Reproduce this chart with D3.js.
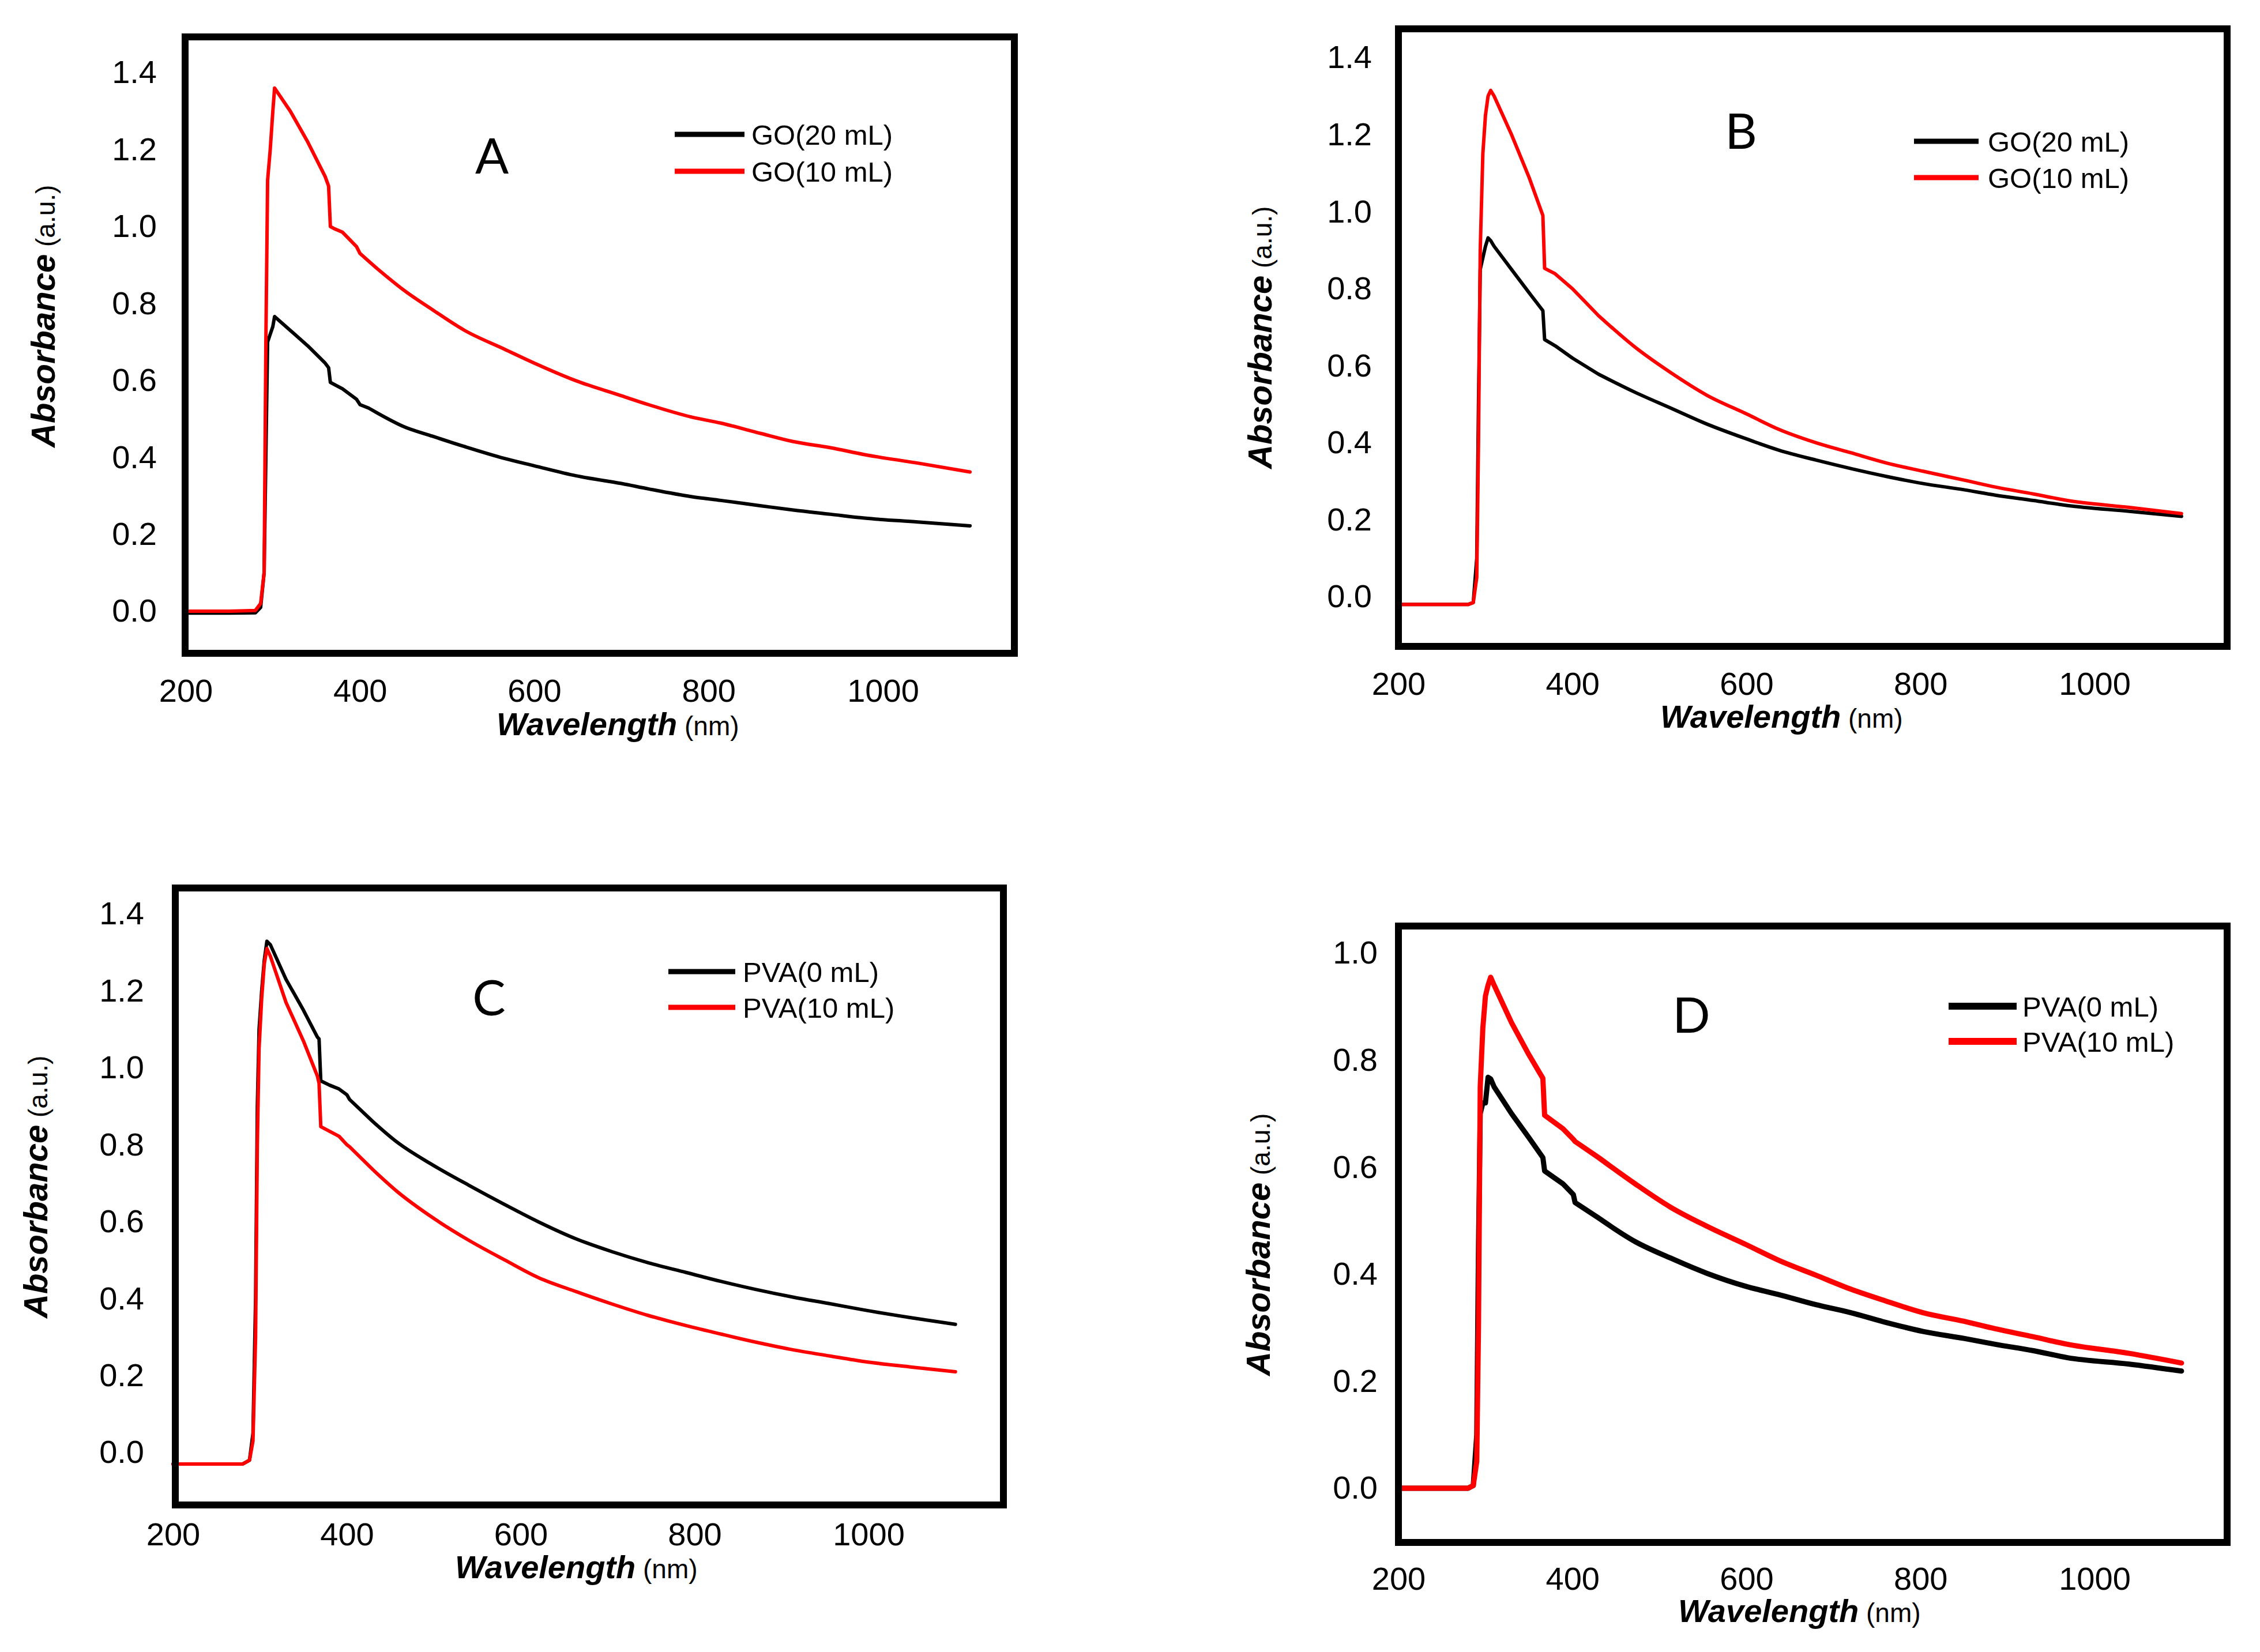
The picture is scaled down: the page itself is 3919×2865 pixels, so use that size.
<!DOCTYPE html>
<html>
<head>
<meta charset="utf-8">
<script src="https://cdn.jsdelivr.net/npm/d3@7"></script>
<style>
  html, body { margin: 0; padding: 0; background: #fff; }
  svg { display: block; }
</style>
</head>
<body>
<script>
// ---------------- DATA ----------------
const xTicks = [200, 400, 600, 800, 1000];
const yTicksABC = [0, 0.2, 0.4, 0.6, 0.8, 1.0, 1.2, 1.4];
const yTicksD = [0, 0.2, 0.4, 0.6, 0.8, 1.0];

// Panel A
const wlA = [200, 250, 280, 286, 290, 292, 294, 297, 300, 302, 305, 320, 340, 360, 364, 366, 370, 380, 396, 400, 410, 420, 450, 483, 520, 566, 600, 648, 700, 731, 780, 814, 860, 897, 940, 979, 1040, 1100];
const goA20 = [-0.005, -0.005, -0.004, 0.01, 0.1, 0.4, 0.70, 0.72, 0.74, 0.766, 0.76, 0.73, 0.69, 0.645, 0.633, 0.595, 0.59, 0.578, 0.551, 0.537, 0.528, 0.515, 0.480, 0.455, 0.428, 0.397, 0.378, 0.352, 0.332, 0.318, 0.298, 0.288, 0.274, 0.263, 0.252, 0.242, 0.232, 0.222];
const goA10 = [0, 0, 0.002, 0.02, 0.1, 0.7, 1.12, 1.2, 1.3, 1.36, 1.35, 1.30, 1.22, 1.13, 1.105, 1.0, 0.995, 0.985, 0.948, 0.93, 0.91, 0.89, 0.835, 0.784, 0.73, 0.681, 0.645, 0.599, 0.56, 0.537, 0.505, 0.489, 0.462, 0.441, 0.425, 0.407, 0.385, 0.362];

// Panel B
const wlB = [200, 250, 280, 286, 290, 292, 294, 297, 300, 303, 306, 310, 330, 350, 366, 368, 380, 400, 430, 472, 513, 554, 600, 637, 680, 720, 760, 803, 850, 886, 930, 969, 1040, 1100];
const goB20 = [-0.02, -0.02, -0.02, -0.015, 0.1, 0.5, 0.85, 0.88, 0.91, 0.932, 0.925, 0.91, 0.85, 0.79, 0.743, 0.668, 0.652, 0.62, 0.578, 0.531, 0.49, 0.449, 0.41, 0.381, 0.355, 0.333, 0.313, 0.294, 0.278, 0.264, 0.25, 0.237, 0.222, 0.209];
const goB10 = [-0.02, -0.02, -0.02, -0.015, 0.05, 0.4, 0.9, 1.15, 1.25, 1.3, 1.315, 1.3, 1.2, 1.09, 0.99, 0.853, 0.839, 0.80, 0.73, 0.648, 0.582, 0.524, 0.475, 0.435, 0.40, 0.374, 0.348, 0.326, 0.303, 0.285, 0.267, 0.25, 0.232, 0.216];

// Panel C
const wlC = [200, 250, 280, 288, 292, 295, 297, 299, 302, 305, 308, 312, 330, 350, 366, 368, 370, 380, 391, 400, 403, 430, 457, 499, 540, 582, 620, 664, 705, 747, 790, 830, 870, 913, 955, 996, 1050, 1100];
const pvaC0 = [-0.03, -0.03, -0.03, -0.02, 0.05, 0.4, 0.9, 1.1, 1.2, 1.28, 1.329, 1.32, 1.23, 1.15, 1.08, 1.075, 0.966, 0.955, 0.945, 0.93, 0.918, 0.86, 0.808, 0.747, 0.695, 0.644, 0.60, 0.555, 0.522, 0.493, 0.468, 0.445, 0.424, 0.404, 0.387, 0.37, 0.35, 0.333];
const pvaC10 = [-0.03, -0.03, -0.03, -0.02, 0.03, 0.3, 0.8, 1.05, 1.18, 1.27, 1.31, 1.29, 1.17, 1.07, 0.979, 0.96, 0.847, 0.835, 0.822, 0.80, 0.795, 0.735, 0.68, 0.61, 0.552, 0.5, 0.455, 0.418, 0.386, 0.356, 0.33, 0.308, 0.287, 0.267, 0.251, 0.236, 0.222, 0.21];

// Panel D
const wlD = [200, 250, 280, 286, 290, 292, 294, 297, 300, 303, 306, 310, 330, 350, 366, 368, 389, 401, 403, 430, 472, 513, 554, 600, 637, 680, 720, 760, 803, 850, 886, 930, 969, 1040, 1100];
const pvaD0 = [0, 0, 0, 0.005, 0.1, 0.45, 0.7, 0.72, 0.72, 0.768, 0.765, 0.75, 0.70, 0.655, 0.618, 0.593, 0.569, 0.549, 0.534, 0.505, 0.461, 0.43, 0.402, 0.377, 0.362, 0.343, 0.328, 0.31, 0.293, 0.28, 0.269, 0.257, 0.244, 0.232, 0.219];
const pvaD10 = [0, 0, 0, 0.005, 0.05, 0.3, 0.75, 0.86, 0.92, 0.94, 0.955, 0.94, 0.87, 0.81, 0.766, 0.697, 0.672, 0.652, 0.648, 0.618, 0.569, 0.525, 0.49, 0.455, 0.426, 0.398, 0.372, 0.35, 0.328, 0.312, 0.298, 0.283, 0.269, 0.252, 0.234];

const panelLetters = ["A", "B", "C", "D"];
const legendA = ["GO(20 mL)", "GO(10 mL)"];
const legendC = ["PVA(0 mL)", "PVA(10 mL)"];

// ---------------- LAYOUT ----------------
const W = 3919, H = 2865;
const FONT = "'Liberation Sans', Arial, sans-serif";
const SMOOTH_FROM = 420; // decay tail drawn with a monotone curve, sharp features kept linear

const panels = [
  { letter: panelLetters[0], wl: wlA, series: [goA20, goA10], names: legendA, yTicks: yTicksABC, yRef: 1.4,
    x200: 322, x1000: 1531, y0: 1060, yRef_px: 126, box: [321, 64, 1759, 1133],
    yPad: 49, xTickY: 1197, xLab: [861, 1275], yLab: [95, 776], letterPos: [853, 301],
    leg: { x1: 1170, x2: 1291, ys: [233, 297], tx: 1303 }, lw: 6, legLw: 9 },
  { letter: panelLetters[1], wl: wlB, series: [goB20, goB10], names: legendA, yTicks: yTicksABC, yRef: 1.4,
    x200: 2425, x1000: 3632, y0: 1035, yRef_px: 100, box: [2425, 50, 3862, 1121],
    yPad: 46, xTickY: 1185, xLab: [2879, 1262], yLab: [2205, 813], letterPos: [3019, 258],
    leg: { x1: 3319, x2: 3431, ys: [245, 308], tx: 3447 }, lw: 6, legLw: 9 },
  { letter: panelLetters[2], wl: wlC, series: [pvaC0, pvaC10], names: legendC, yTicks: yTicksABC, yRef: 1.4,
    x200: 300, x1000: 1506, y0: 2519, yRef_px: 1585, box: [304, 1540, 1740, 2610],
    yPad: 54, xTickY: 2660, xLab: [789, 2737], yLab: [82, 2286], letterPos: [848, 1761],
    leg: { x1: 1159, x2: 1275, ys: [1685, 1747], tx: 1288 }, lw: 6, legLw: 9 },
  { letter: panelLetters[3], wl: wlD, series: [pvaD0, pvaD10], names: legendC, yTicks: yTicksD, yRef: 1.0,
    x200: 2425, x1000: 3632, y0: 2581, yRef_px: 1653, box: [2425, 1606, 3862, 2675],
    yPad: 36, xTickY: 2737, xLab: [2910, 2813], yLab: [2202, 2386], letterPos: [2933, 1791],
    leg: { x1: 3379, x2: 3497, ys: [1745, 1806], tx: 3507 }, lw: 9, legLw: 12 }
];
const colors = ["#000000", "#ff0000"];

const svg = d3.select("body").append("svg")
  .attr("width", W).attr("height", H).attr("viewBox", `0 0 ${W} ${H}`);
svg.append("rect").attr("width", W).attr("height", H).attr("fill", "#fff");

panels.forEach(p => {
  const g = svg.append("g");
  const x = d3.scaleLinear().domain([200, 1000]).range([p.x200, p.x1000]);
  const y = d3.scaleLinear().domain([0, p.yRef]).range([p.y0, p.yRef_px]);
  const [bx0, by0, bx1, by1] = p.box;

  // y axis labels
  const yAxis = d3.axisLeft(y).tickValues(p.yTicks).tickSize(0).tickPadding(p.yPad)
    .tickFormat(d3.format(".1f"));
  const ya = g.append("g").attr("transform", `translate(${bx0},0)`).call(yAxis);
  ya.select(".domain").remove();
  ya.selectAll("text").attr("font-family", FONT).attr("font-size", 56).attr("fill", "#000");

  // x axis labels
  const xAxis = d3.axisBottom(x).tickValues(xTicks).tickSize(0).tickFormat(d3.format("d"));
  const xa = g.append("g").attr("transform", `translate(0,${p.xTickY})`).call(xAxis);
  xa.select(".domain").remove();
  xa.selectAll("text").attr("y", 0).attr("dy", "0.36em")
    .attr("font-family", FONT).attr("font-size", 56).attr("fill", "#000");

  // curves: sharp part linear, smooth tail monotone, joined in one path
  const lineLin = d3.line().x(d => x(d[0])).y(d => y(d[1]));
  const lineSmooth = d3.line().curve(d3.curveMonotoneX).x(d => x(d[0])).y(d => y(d[1]));
  const split = p.wl.findIndex(w => w >= SMOOTH_FROM);
  p.series.forEach((s, i) => {
    const pts = p.wl.map((w, k) => [w, s[k]]);
    const head = pts.slice(0, split + 1);
    const tail = pts.slice(split);
    const d = lineLin(head) + lineSmooth(tail).replace(/^M/, "L");
    g.append("path").attr("d", d)
      .attr("fill", "none").attr("stroke", colors[i])
      .attr("stroke-width", p.lw).attr("stroke-linejoin", "round").attr("stroke-linecap", "round");
  });

  // frame
  g.append("rect").attr("x", bx0).attr("y", by0)
    .attr("width", bx1 - bx0).attr("height", by1 - by0)
    .attr("fill", "none").attr("stroke", "#000").attr("stroke-width", 12);

  // x label
  const xl = g.append("text").attr("x", p.xLab[0]).attr("y", p.xLab[1])
    .attr("font-family", FONT).attr("fill", "#000");
  xl.append("tspan").attr("font-weight", "bold").attr("font-style", "italic").attr("font-size", 56).text("Wavelength");
  xl.append("tspan").attr("font-size", 46).text(" (nm)");

  // y label
  const yl = g.append("text").attr("transform", `translate(${p.yLab[0]},${p.yLab[1]}) rotate(-90)`)
    .attr("font-family", FONT).attr("fill", "#000");
  yl.append("tspan").attr("font-weight", "bold").attr("font-style", "italic").attr("font-size", 58).text("Absorbance");
  yl.append("tspan").attr("font-size", 46).text(" (a.u.)");

  // panel letter
  g.append("text").attr("x", p.letterPos[0]).attr("y", p.letterPos[1])
    .attr("text-anchor", "middle").attr("font-family", "Lato, 'Open Sans', sans-serif")
    .attr("font-size", 86).attr("fill", "#000").text(p.letter);

  // legend
  p.names.forEach((n, i) => {
    g.append("line").attr("x1", p.leg.x1).attr("x2", p.leg.x2)
      .attr("y1", p.leg.ys[i]).attr("y2", p.leg.ys[i])
      .attr("stroke", colors[i]).attr("stroke-width", p.legLw);
    g.append("text").attr("x", p.leg.tx).attr("y", p.leg.ys[i]).attr("dy", "0.36em")
      .attr("font-family", FONT).attr("font-size", 49).attr("fill", "#000").text(n);
  });
});
</script>
</body>
</html>
